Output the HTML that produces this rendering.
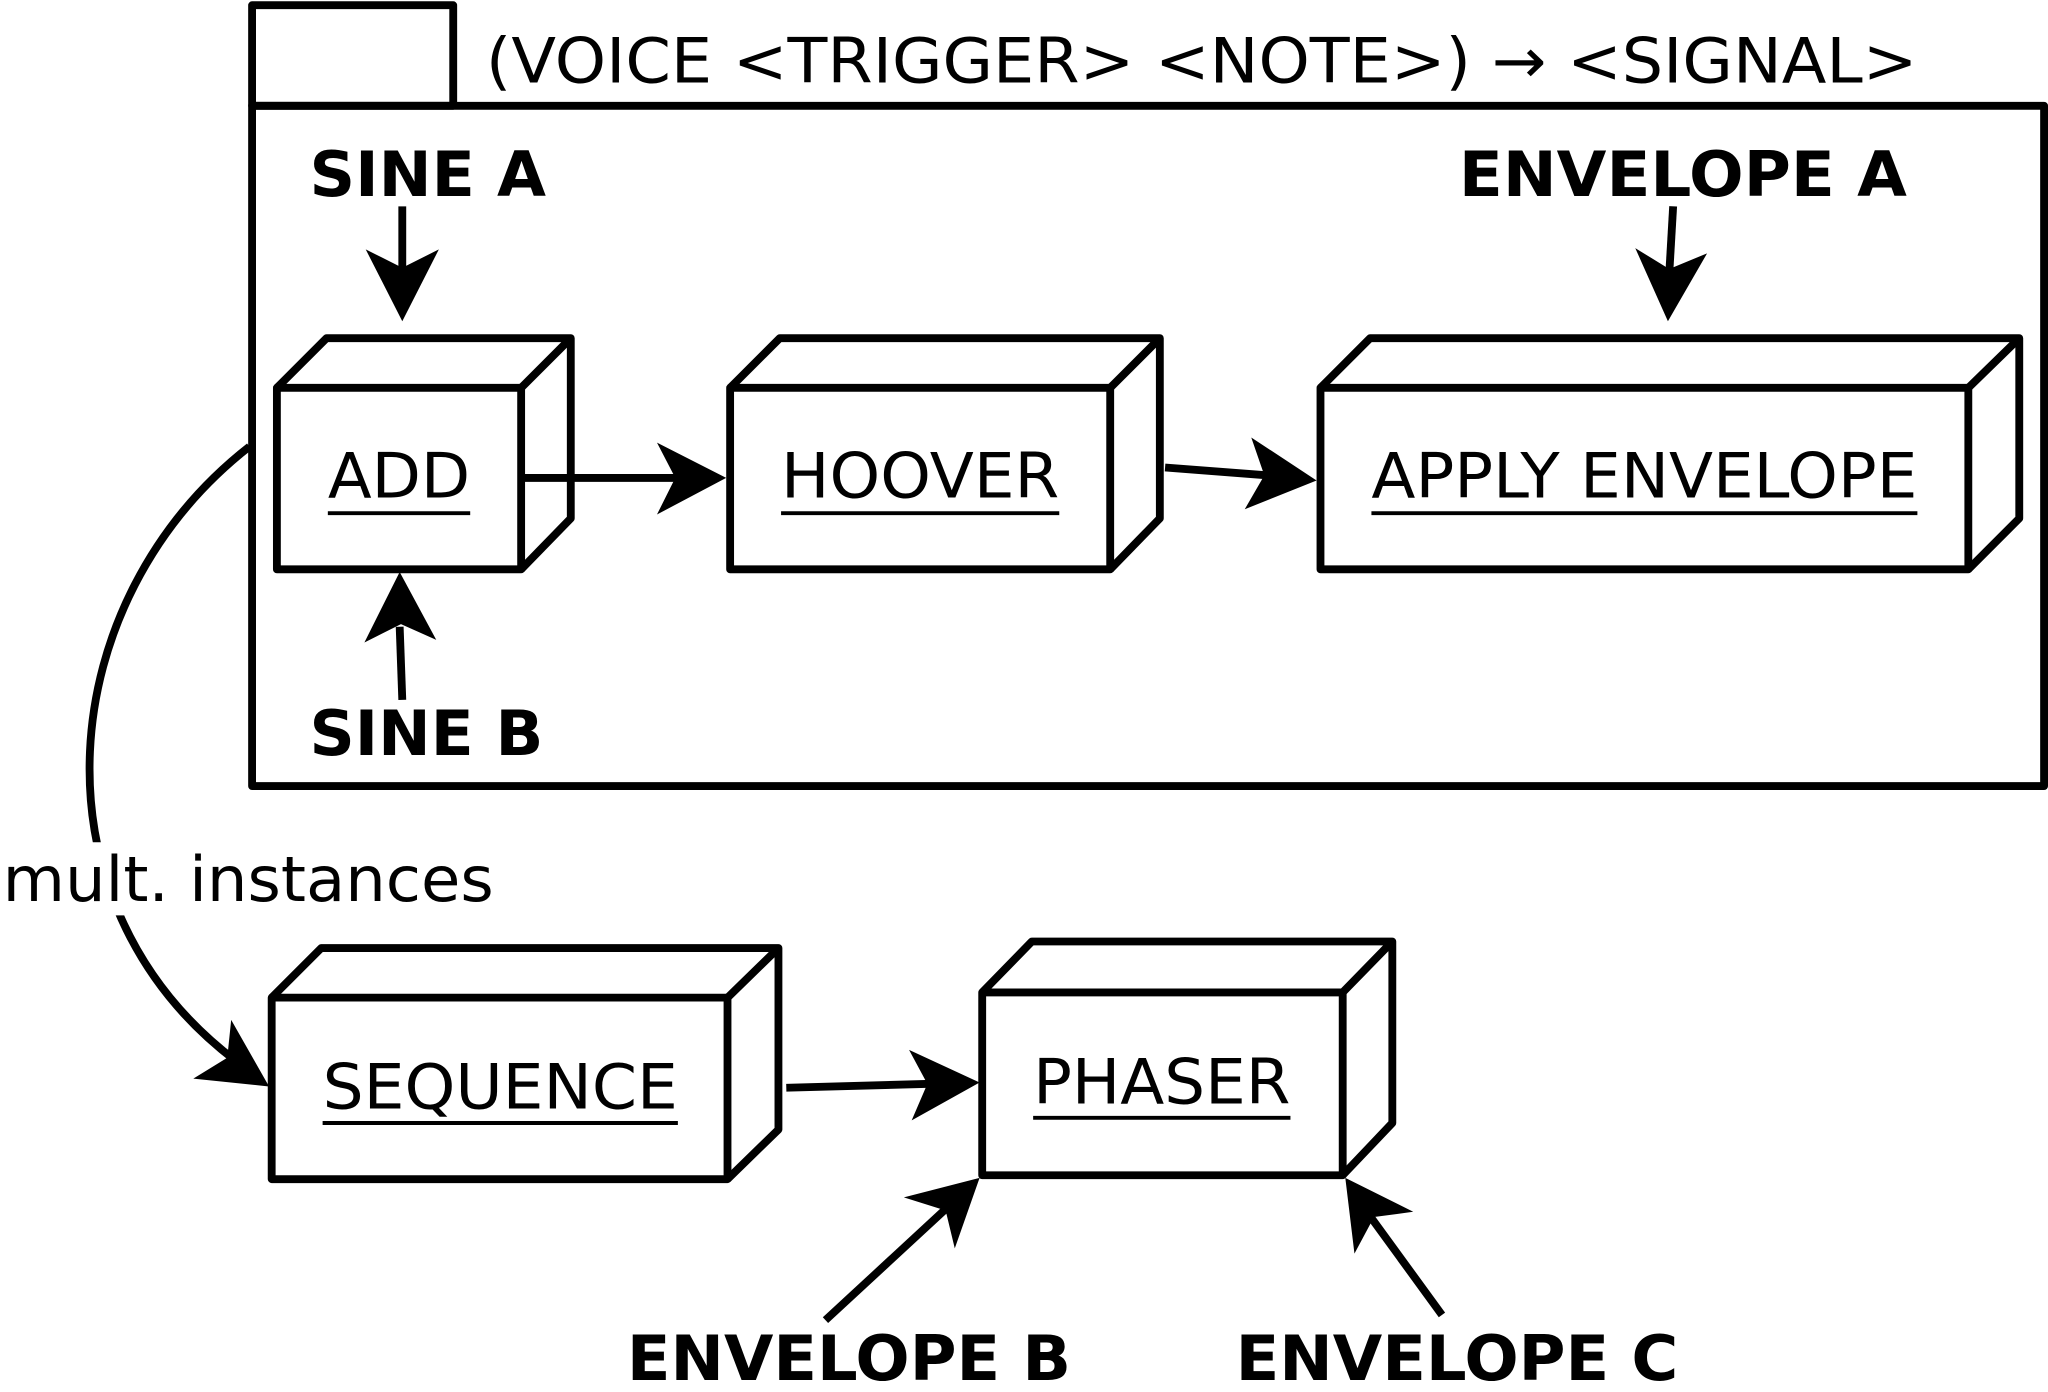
<!DOCTYPE html>
<html><head><meta charset="utf-8"><style>
html,body{margin:0;padding:0;background:#fff;}
svg{display:block;}
text{font-family:"DejaVu Sans","Liberation Sans",sans-serif;fill:#000;}
.b{font-weight:bold;}
</style></head><body>
<svg width="2048" height="1392" viewBox="0 0 1568 1066" preserveAspectRatio="none" xmlns="http://www.w3.org/2000/svg">
<g fill="none" stroke="#000" stroke-width="6" stroke-linejoin="round">
<rect x="193" y="4" width="154" height="77"/>
<rect x="193" y="81" width="1372" height="521"/>
<!-- ADD -->
<rect x="212" y="297" width="187" height="139"/>
<path d="M212,297 L250,259 L437,259 L399,297 M437,259 L437,397 L399,436"/>
<!-- HOOVER -->
<rect x="559" y="297" width="291" height="139"/>
<path d="M559,297 L597,259 L888,259 L850,297 M888,259 L888,397 L850,436"/>
<!-- APPLY -->
<rect x="1011" y="297" width="496" height="139"/>
<path d="M1011,297 L1049,259 L1546,259 L1507,297 M1546,259 L1546,397 L1507,436"/>
<!-- SEQUENCE -->
<rect x="208" y="764" width="349" height="139"/>
<path d="M208,764 L246,726 L596,726 L557,764 M596,726 L596,865 L557,903"/>
<!-- PHASER -->
<rect x="752" y="760" width="276" height="140"/>
<path d="M752,760 L790,721 L1066,721 L1028,760 M1066,721 L1066,860 L1028,900"/>
<!-- lines -->
<line x1="308" y1="158" x2="308" y2="210"/>
<line x1="401" y1="366" x2="520" y2="366"/>
<line x1="892" y1="358" x2="970" y2="364"/>
<line x1="1281" y1="158" x2="1278" y2="210"/>
<line x1="308" y1="536" x2="306" y2="480"/>
<path d="M191,342 C40,460 20,690 180,812"/>
<line x1="602" y1="833" x2="712" y2="830"/>
<line x1="632" y1="1011" x2="725" y2="925"/>
<line x1="1104" y1="1007" x2="1048" y2="930"/>
</g>
<g fill="#000">
<polygon points="280,191 308,246 336,191 308,205"/>
<polygon points="503,339 556,366 503,394 517,366"/>
<polygon points="958,335 1008,368 953,390 968,364"/>
<polygon points="1252,190 1277,246 1307,194 1278,206"/>
<polygon points="279,492 306,438 334,490 307,478"/>
<polygon points="148,826 206,832 177,781 174,810"/>
<polygon points="696,804 750,829 698,858 710,830"/>
<polygon points="692,917 750,902 731,956 724,927"/>
<polygon points="1037,960 1030,902 1082,928 1052,932"/>
</g>
<rect x="0" y="645" width="384" height="56" fill="#fff"/>
<g font-size="48">
<text x="372" y="63" textLength="1096" lengthAdjust="spacingAndGlyphs">(VOICE &lt;TRIGGER&gt; &lt;NOTE&gt;) →  &lt;SIGNAL&gt;</text>
<text class="b" x="237" y="150" textLength="181" lengthAdjust="spacingAndGlyphs">SINE A</text>
<text class="b" x="1117" y="150" textLength="343" lengthAdjust="spacingAndGlyphs">ENVELOPE A</text>
<text class="b" x="237" y="578" textLength="179" lengthAdjust="spacingAndGlyphs">SINE B</text>
<text class="b" x="480" y="1057" textLength="340" lengthAdjust="spacingAndGlyphs">ENVELOPE B</text>
<text class="b" x="946" y="1057" textLength="339" lengthAdjust="spacingAndGlyphs">ENVELOPE C</text>
<text x="2" y="690" textLength="376" lengthAdjust="spacingAndGlyphs">mult. instances</text>
<text x="251" y="381" textLength="109" lengthAdjust="spacingAndGlyphs">ADD</text>
<text x="598" y="381" textLength="213" lengthAdjust="spacingAndGlyphs">HOOVER</text>
<text x="1050" y="381" textLength="418" lengthAdjust="spacingAndGlyphs">APPLY ENVELOPE</text>
<text x="247" y="849" textLength="272" lengthAdjust="spacingAndGlyphs">SEQUENCE</text>
<text x="791" y="845" textLength="197" lengthAdjust="spacingAndGlyphs">PHASER</text>
</g>
<g stroke="#000" stroke-width="3">
<line x1="251" y1="393" x2="360" y2="393"/>
<line x1="598" y1="393" x2="811" y2="393"/>
<line x1="1050" y1="393" x2="1468" y2="393"/>
<line x1="247" y1="860" x2="519" y2="860"/>
<line x1="791" y1="856" x2="988" y2="856"/>
</g>
</svg>
</body></html>
